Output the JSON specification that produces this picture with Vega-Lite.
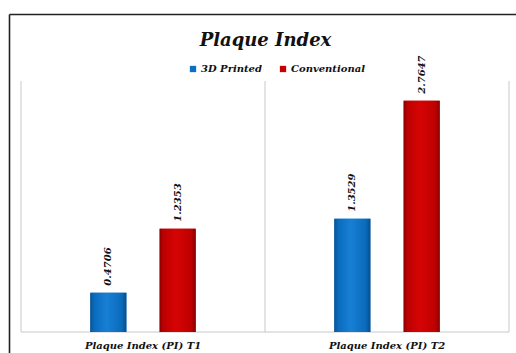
{
  "$schema": "https://vega.github.io/schema/vega-lite/v6.json",
  "width": 507,
  "height": 339,
  "autosize": "none",
  "padding": {"left": 9, "top": 14, "right": 0, "bottom": 0},
  "background": "white",
  "title": {
    "text": "Plaque Index",
    "font": "DejaVu Serif",
    "fontSize": 18,
    "fontWeight": "bold",
    "fontStyle": "italic",
    "color": "#111111",
    "anchor": "middle",
    "frame": "group",
    "offset": -36,
    "dx": 3
  },
  "datasets": {
    "scores": [
      {"category": "Plaque Index (PI) T1", "series": "3D Printed", "value": 0.4706},
      {"category": "Plaque Index (PI) T1", "series": "Conventional", "value": 1.2353},
      {"category": "Plaque Index (PI) T2", "series": "3D Printed", "value": 1.3529},
      {"category": "Plaque Index (PI) T2", "series": "Conventional", "value": 2.7647}
    ],
    "groups": [
      {"category": "Plaque Index (PI) T1"},
      {"category": "Plaque Index (PI) T2"}
    ]
  },
  "config": {
    "view": {"stroke": null},
    "font": "DejaVu Serif"
  },
  "resolve": {"axis": {"x": "independent"}},
  "layer": [
    {
      "data": {"name": "groups"},
      "mark": {"type": "rule", "color": "#c8c8c8", "strokeWidth": 1},
      "encoding": {
        "x": {
          "field": "category", "type": "nominal", "bandPosition": 0,
          "scale": {"paddingInner": 0, "paddingOuter": 0.0389, "align": 0.632},
          "axis": {"orient": "top", "title": null, "labels": false, "ticks": false, "grid": false,
                   "domain": true, "domainColor": "#222222", "domainWidth": 1.6}
        },
        "y": {"datum": 0, "type": "quantitative",
              "scale": {"domain": [-0.251, 3.801], "nice": false, "zero": false},
              "axis": {"title": null, "labels": false, "ticks": false, "grid": false,
                       "domain": true, "domainColor": "#222222", "domainWidth": 1.6}},
        "y2": {"datum": 3}
      }
    },
    {
      "data": {"values": [{"category": "Plaque Index (PI) T2"}]},
      "mark": {"type": "rule", "color": "#c8c8c8", "strokeWidth": 1},
      "encoding": {
        "x": {"field": "category", "type": "nominal", "bandPosition": 1, "axis": null},
        "y": {"datum": 0, "type": "quantitative"},
        "y2": {"datum": 3}
      }
    },
    {
      "data": {"name": "groups"},
      "mark": {"type": "rule", "color": "#c8c8c8", "strokeWidth": 1},
      "encoding": {
        "x": {"field": "category", "type": "nominal", "bandPosition": 0, "axis": null},
        "x2": {"field": "category", "bandPosition": 1},
        "y": {"datum": 0, "type": "quantitative"}
      }
    },
    {
      "data": {"name": "scores"},
      "mark": {"type": "bar"},
      "encoding": {
        "x": {
          "field": "category", "type": "nominal",
          "axis": {"orient": "bottom", "title": null, "offset": -21, "domain": false, "ticks": false,
                   "grid": false, "labelAngle": 0, "labelPadding": 8,
                   "labelFont": "DejaVu Serif", "labelFontSize": 10, "labelFontWeight": "bold",
                   "labelFontStyle": "italic", "labelColor": "#111111"}
        },
        "xOffset": {"field": "series", "type": "nominal",
                    "scale": {"domain": ["3D Printed", "Conventional"], "paddingInner": 0.48, "paddingOuter": 1.161}},
        "y": {"field": "value", "type": "quantitative"},
        "color": {
          "field": "series", "type": "nominal",
          "scale": {"domain": ["3D Printed", "Conventional"], "range": ["#0b6fc4", "#c40000"]},
          "legend": {
            "title": null, "orient": "none", "direction": "horizontal",
            "legendX": 179, "legendY": 50,
            "symbolType": "square", "symbolSize": 40, "symbolStrokeWidth": 0,
            "labelFont": "DejaVu Serif", "labelFontSize": 10, "labelFontWeight": "bold",
            "labelFontStyle": "italic", "labelColor": "#111111",
            "labelOffset": 3, "columnPadding": 16
          }
        }
      }
    },
    {
      "data": {"name": "scores"},
      "mark": {"type": "bar"},
      "encoding": {
        "x": {"field": "category", "type": "nominal", "axis": null},
        "xOffset": {"field": "series", "type": "nominal"},
        "y": {"field": "value", "type": "quantitative"},
        "fill": {
          "condition": {
            "test": "datum.series === '3D Printed'",
            "value": {
              "gradient": "linear", "x1": 0, "x2": 1, "y1": 0, "y2": 0,
              "stops": [
                {"offset": 0, "color": "#0a528f"},
                {"offset": 0.1, "color": "#0a6abc"},
                {"offset": 0.45, "color": "#1780d4"},
                {"offset": 0.88, "color": "#0b6aba"},
                {"offset": 1, "color": "#094c88"}
              ]
            }
          },
          "value": {
            "gradient": "linear", "x1": 0, "x2": 1, "y1": 0, "y2": 0,
            "stops": [
              {"offset": 0, "color": "#8c0000"},
              {"offset": 0.1, "color": "#bc0000"},
              {"offset": 0.45, "color": "#d60404"},
              {"offset": 0.88, "color": "#be0000"},
              {"offset": 1, "color": "#880000"}
            ]
          }
        }
      }
    },
    {
      "data": {"name": "scores"},
      "mark": {"type": "text", "angle": 270, "align": "left", "baseline": "middle", "dx": 7,
               "font": "DejaVu Serif", "fontSize": 10, "fontWeight": "bold", "fontStyle": "italic",
               "color": "#111111"},
      "encoding": {
        "x": {"field": "category", "type": "nominal", "axis": null},
        "xOffset": {"field": "series", "type": "nominal"},
        "y": {"field": "value", "type": "quantitative"},
        "text": {"field": "value", "type": "quantitative", "format": ".4f"}
      }
    }
  ]
}
